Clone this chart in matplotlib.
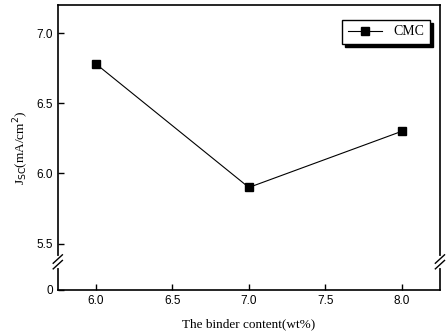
import matplotlib
matplotlib.use('Agg')
import matplotlib.pyplot as plt
import matplotlib.transforms as mtransforms

binder = [6.0, 7.0, 8.0]
jsc = [6.78, 5.90, 6.30]

x_ticks = [6.0, 6.5, 7.0, 7.5, 8.0]
y_ticks = [5.5, 6.0, 6.5, 7.0]
y_zero_pos = 5.17   # where the "0" sits below the axis break
y_break = 5.37

fig = plt.figure(figsize=(4.48, 3.34), dpi=100)
ax = fig.add_axes([0.129, 0.132, 0.853, 0.853])

ax.plot(binder, jsc, color='black', lw=0.8, marker='s', ms=6,
        markerfacecolor='black', label='CMC')

ax.set_xlim(5.75, 8.25)
ax.set_ylim(y_zero_pos, 7.2)
ax.set_xticks(x_ticks)
ax.set_xticklabels(['%.1f' % v for v in x_ticks])
ax.set_yticks([y_zero_pos] + y_ticks)
ax.set_yticklabels(['0'] + ['%.1f' % v for v in y_ticks])
ax.tick_params(direction='in', length=4, width=1, labelsize=8.5,
               top=False, right=False)
for lab in ax.get_xticklabels() + ax.get_yticklabels():
    lab.set_family('Liberation Sans')
for s in ax.spines.values():
    s.set_linewidth(1.2)

# axis break marks on left and right spines
trans = mtransforms.blended_transform_factory(ax.transAxes, ax.transData)
for xa in (0.0, 1.0):
    ax.plot([xa, xa], [y_break - 0.03, y_break + 0.03], color='white',
            lw=3, transform=trans, clip_on=False, zorder=5)
    for dy in (-0.02, 0.02):
        ax.plot([xa - 0.012, xa + 0.012], [y_break + dy - 0.03, y_break + dy + 0.03],
                color='black', lw=1, transform=trans, clip_on=False, zorder=6)

ax.set_xlabel('The binder content(wt%)', family='Liberation Serif', fontsize=9.5, labelpad=8)
ax.set_ylabel(r'J$_{\rm SC}$(mA/cm$^2$)', family='Liberation Serif', fontsize=9.5, labelpad=4)

leg = ax.legend(loc='upper right', bbox_to_anchor=(0.992, 0.972), fancybox=False,
                shadow={'color': 'black', 'alpha': 1, 'ox': 2, 'oy': -2},
                edgecolor='black', framealpha=1,
                prop={'family': 'Liberation Serif', 'size': 10}, handlelength=2.5,
                borderpad=0.4)
leg.get_frame().set_linewidth(1)

fig.savefig('out.png', dpi=100)
